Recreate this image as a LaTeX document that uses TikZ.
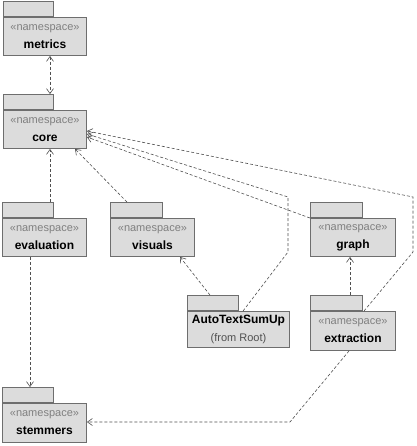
\documentclass[tikz,border=0pt]{standalone}
\usepackage{fontspec}
\setmainfont{Liberation Sans}
\usetikzlibrary{arrows.meta}
\definecolor{pkgfill}{HTML}{DCDCDC}
\definecolor{pkgline}{HTML}{6E6E6E}
\definecolor{stereo}{HTML}{808080}
\definecolor{depline}{HTML}{505050}
\tikzset{
  pkgbody/.style={draw=pkgline, fill=pkgfill, line width=0.9pt, rectangle, inner sep=0pt, anchor=north west, align=center, font=\fontsize{12}{18}\selectfont},
  pkgtab/.style={draw=pkgline, fill=pkgfill, line width=0.9pt, rectangle, inner sep=0pt, anchor=south west},
  dep/.style={draw=depline, line width=0.6pt, dash pattern=on 3pt off 2pt, -{Straight Barb[length=5pt,width=7pt]}},
}
\newcommand\stereo{{\fontsize{11}{18}\selectfont\color{stereo}«namespace»}}
\newcommand\pkg[7]{%
  \node[pkgbody, minimum width=#4pt, minimum height=#5pt] (#1) at (#2,#3) {#7};
  \node[pkgtab, minimum width=#6pt, minimum height=15pt] (#1-tab) at (#1.north west) {};
}
\begin{document}
\begin{tikzpicture}[x=1pt,y=-1pt]
\useasboundingbox (0,0) rectangle (416,446);
\pkg{metrics}{3}{17}{83}{38}{50}{\stereo\\\textbf{metrics}}
\pkg{core}{3}{110}{83}{38}{50}{\stereo\\\textbf{core}}
\pkg{evaluation}{2}{218}{84}{38}{51}{\stereo\\\textbf{evaluation}}
\pkg{visuals}{110}{218}{84}{38}{52}{\stereo\\\textbf{visuals}}
\pkg{graph}{310}{218}{85}{38}{52}{\stereo\\\textbf{graph}}
\pkg{auto}{187}{311}{102}{36}{51}{\textbf{AutoTextSumUp}\\{\fontsize{11}{18}\selectfont\color{depline}(from Root)}}
\pkg{extraction}{310}{311}{85}{39}{52}{\stereo\\\textbf{extraction}}
\pkg{stemmers}{2}{403}{84}{39}{51}{\stereo\\\textbf{stemmers}}

% metrics <-> core
\draw[dep, {Straight Barb[length=5pt,width=7pt]}-{Straight Barb[length=5pt,width=7pt]}]
  ([xshift=47pt]metrics.south west) -- ([xshift=47pt]core-tab.north west);
% evaluation -> core
\draw[dep] ([xshift=48pt]evaluation-tab.north west) -- ([xshift=47pt]core.south west);
% evaluation -> stemmers
\draw[dep] ([xshift=28pt]evaluation.south west) -- ([xshift=28pt]stemmers-tab.north west);
% visuals -> core
\draw[dep] ([xshift=17pt]visuals-tab.north west) -- ([xshift=72pt]core.south west);
% auto -> visuals
\draw[dep] ([xshift=23pt]auto-tab.north west) -- ([xshift=70pt]visuals.south west);
% auto -> core
\coordinate (a1) at (288,252);
\coordinate (a2) at (288,197);
\draw[dep] ([xshift=56pt]auto.north west) -- (a1) -- (a2) -- ([yshift=-24pt]core.north east);
% graph -> core
\draw[dep] (graph.north west) -- ([yshift=-27pt]core.north east);
% extraction -> core
\coordinate (e1) at (413,252);
\coordinate (e2) at (413,197);
\draw[dep] ([xshift=54pt]extraction.north west) -- (e1) -- (e2) -- ([yshift=-21pt]core.north east);
% extraction -> graph
\draw[dep] ([xshift=40pt]extraction-tab.north west) -- ([xshift=40pt]graph.south west);
% extraction -> stemmers
\coordinate (s1) at (290,422);
\draw[dep] ([xshift=39pt]extraction.south west) -- (s1) -- (stemmers.east |- s1);
\end{tikzpicture}
\end{document}
